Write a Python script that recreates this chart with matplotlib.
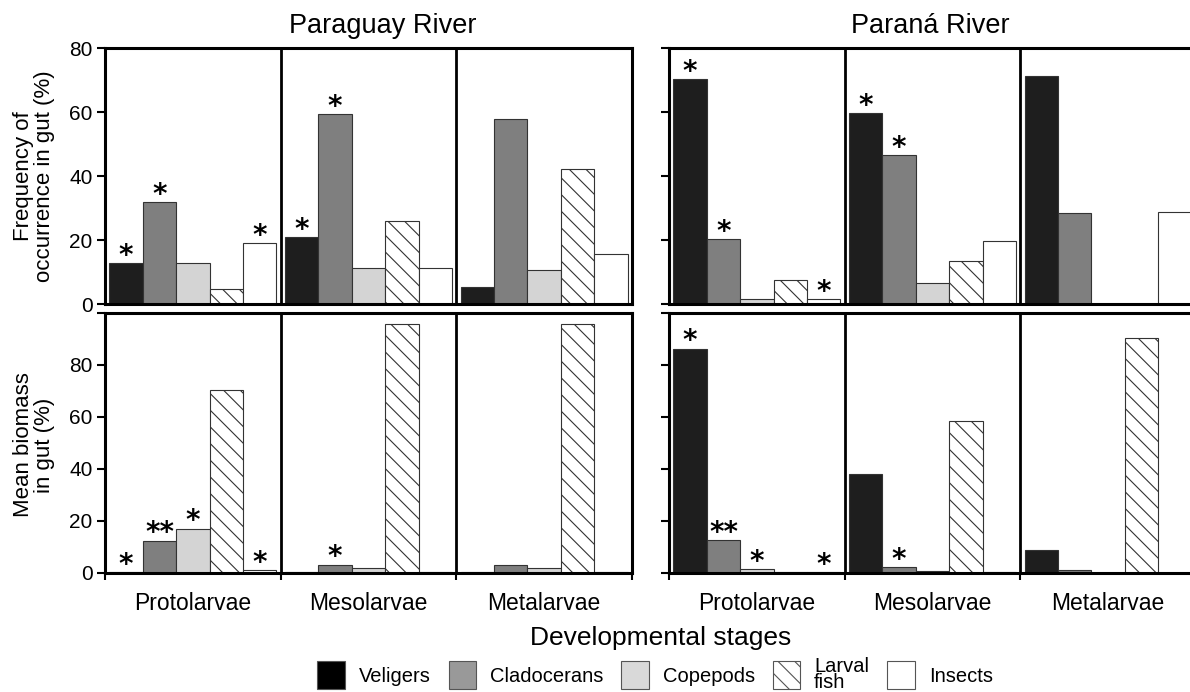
import numpy as np
import matplotlib.pyplot as plt
from matplotlib.patches import Patch

plt.rcParams['font.family'] = ['Liberation Sans', 'DejaVu Sans']
plt.rcParams['hatch.linewidth'] = 0.8

stages = ["Protolarvae", "Mesolarvae", "Metalarvae"]
prey = ["Veligers", "Cladocerans", "Copepods", "Larval\nfish", "Insects"]

# rows = stages, columns = prey items (%)
freq_paraguay = [[12.8, 31.8, 12.9, 4.6, 19.0],
                 [20.9, 59.3, 11.3, 25.9, 11.3],
                 [5.2, 57.8, 10.7, 42.1, 15.6]]
freq_parana = [[70.3, 20.2, 1.6, 7.5, 1.6],
               [59.7, 46.5, 6.5, 13.4, 19.8],
               [71.2, 28.5, 0.0, 0.0, 28.7]]
bio_paraguay = [[0.2, 12.5, 17.0, 70.2, 1.0],
                [0.2, 3.2, 1.8, 95.6, 0.2],
                [0.2, 3.2, 1.8, 95.6, 0.2]]
bio_parana = [[86.3, 12.6, 1.4, 0.2, 0.2],
              [38.0, 2.3, 0.8, 58.5, 0.2],
              [8.7, 1.0, 0.0, 90.4, 0.0]]

# significance marks
stars_freq_paraguay = [["*", "*", "", "", "*"], ["*", "*", "", "", ""], ["", "", "", "", ""]]
stars_freq_parana = [["*", "*", "", "", "*"], ["*", "*", "", "", ""], ["", "", "", "", ""]]
stars_bio_paraguay = [["*", "**", "*", "", "*"], ["", "*", "", "", ""], ["", "", "", "", ""]]
stars_bio_parana = [["*", "**", "*", "", "*"], ["", "*", "", "", ""], ["", "", "", "", ""]]

fills = ["#1e1e1e", "#7f7f7f", "#d4d4d4", "white", "white"]
legend_fills = ["#000000", "#999999", "#d9d9d9", "white", "white"]
hatches = [None, None, None, "\\\\", None]

W, H = 1190, 692


def box(x0, y0, x1, y1):
    return [x0 / W, 1 - y1 / H, (x1 - x0) / W, (y1 - y0) / H]


def draw(ax, values, stars, ymax, labelled, bottom):
    values = np.asarray(values)
    n_stage, n_prey = values.shape
    width = 0.19
    offs = 0.025 + width * (np.arange(n_prey) + 0.5)
    for k in range(n_prey):
        x = np.arange(n_stage) + offs[k]
        ax.bar(x, values[:, k], width, color=fills[k], edgecolor="#333333",
               linewidth=0.8, hatch=hatches[k])
        for i in range(n_stage):
            if stars[i][k]:
                ax.annotate(stars[i][k], (x[i], values[i, k]), xytext=(0, -0.5),
                            textcoords="offset points", ha="center", va="baseline",
                            fontsize=20, family="DejaVu Sans", fontweight="bold")
    for s in range(1, n_stage):
        ax.axvline(s, color="black", lw=2.0)
    ax.set_xlim(0, n_stage)
    ax.set_ylim(0, ymax)
    for sp in ax.spines.values():
        sp.set_linewidth(2.2)
    ticks = np.arange(0, ymax + 1, 20)
    ax.set_yticks(ticks)
    if labelled:
        ax.set_yticklabels([str(t) if t <= 80 else "" for t in ticks])
    else:
        ax.set_yticklabels([])
    ax.tick_params(axis="y", length=6, width=1.5, labelsize=15, pad=3)
    if bottom:
        ax.set_xticks(np.arange(n_stage) + 0.5)
        ax.set_xticklabels(stages, fontsize=16.5)
        ax.set_xticks(np.arange(n_stage + 1), minor=True)
        ax.tick_params(axis="x", which="major", length=0, pad=14)
        ax.tick_params(axis="x", which="minor", length=5, width=1.5)
    else:
        ax.set_xticks([])


fig = plt.figure(figsize=(W / 100, H / 100), dpi=100)

ax_fp = fig.add_axes(box(105, 48, 632, 304))
ax_bp = fig.add_axes(box(105, 313, 632, 573))
ax_fr = fig.add_axes(box(669, 48, 1196, 304))
ax_br = fig.add_axes(box(669, 313, 1196, 573))

draw(ax_fp, freq_paraguay, stars_freq_paraguay, 80, True, False)
draw(ax_bp, bio_paraguay, stars_bio_paraguay, 100, True, True)
draw(ax_fr, freq_parana, stars_freq_parana, 80, False, False)
draw(ax_br, bio_parana, stars_bio_parana, 100, False, True)

fig.text(383 / W, 1 - 33 / H, "Paraguay River", fontsize=19.5, ha="center", va="baseline")
fig.text(930 / W, 1 - 33 / H, "Paraná River", fontsize=19.5, ha="center", va="baseline")

fig.text(34 / W, 1 - 176 / H, "Frequency of\noccurrence in gut (%)", rotation=90,
         fontsize=16, ha="center", va="center", multialignment="center", linespacing=0.95)
fig.text(34 / W, 1 - 445 / H, "Mean biomass\nin gut (%)", rotation=90,
         fontsize=16, ha="center", va="center", multialignment="center", linespacing=0.95)

fig.text(661 / W, 1 - 645 / H, "Developmental stages", fontsize=19, ha="center", va="baseline")

handles = [Patch(facecolor=legend_fills[k], edgecolor="#555555", hatch=hatches[k], lw=0.8)
           for k in range(len(prey))]
leg = fig.legend(handles, prey, loc="center", bbox_to_anchor=(655 / W, 1 - 674 / H),
                 ncol=5, frameon=False, fontsize=14.5, handlelength=1.35, handleheight=1.7,
                 handletextpad=0.7, columnspacing=0.9, borderaxespad=0, borderpad=0)
leg.get_texts()[3].set_linespacing(0.8)

fig.savefig("out.png", dpi=100)
